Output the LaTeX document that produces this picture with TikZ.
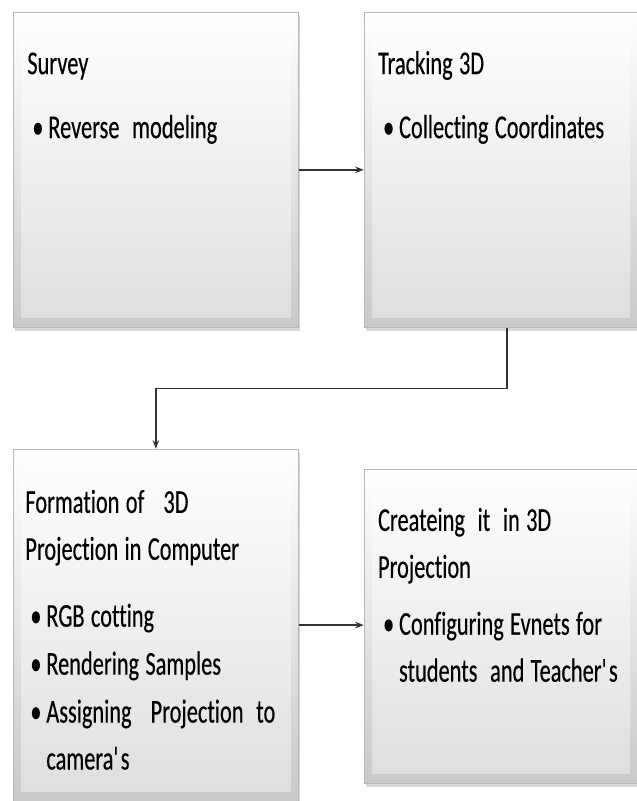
\documentclass[tikz,border=0pt]{standalone}
\usepackage{fontspec}
\setmainfont[FakeStretch=0.67, FakeBold=0.3, Ligatures=NoCommon]{Carlito}
\usepackage{tikz}
\usetikzlibrary{calc,positioning,arrows.meta,shadows}
\tikzset{
    % bevelled stage box (outer frame + inner face)
    stagebox/.style = {draw=gray!55, thin, inner sep=0, top color=white, bottom color=gray!42,
        drop shadow={shadow xshift=0.03cm, shadow yshift=-0.07cm, fill=gray!70, opacity=0.45},
        path picture={\shade[top color=white, bottom color=gray!26]
            ([shift={(0.16cm,0.2cm)}]path picture bounding box.south west) rectangle
            ([shift={(-0.16cm,-0.14cm)}]path picture bounding box.north east);}},
    % stage text (title and bullets)
    stagetext/.style = {anchor=north west, inner sep=0, align=left, text width=#1,
        font=\fontsize{19}{26.7}\selectfont,
        execute at begin node={\spaceskip=0.19em plus 0.05em\relax}},
    % connection between stages
    fconc/.style = {draw=black!80, line width=0.8pt, -{Stealth[length=1.7mm, width=1.3mm]}}
}
% bullet line, wrapped lines hang under the text
\newcommand{\stitem}[2][0.06cm]{\par\vspace{#1}\noindent\hspace*{0.1cm}\makebox[0.32cm][l]{\textbullet}\parbox[t]{5cm}{\raggedright #2}\par}

\begin{document}
\begin{tikzpicture}
\useasboundingbox (0,0) rectangle (12.74,-16.02);

% stages
\node [stagebox, minimum width=5.7cm, minimum height=6.3cm, anchor=north west] (A) at (0.26,-0.24) {};
\node [stagebox, minimum width=5.48cm, minimum height=6.3cm, anchor=north west] (B) at ($(A.north east)+(1.3,0)$) {};
\node [stagebox, minimum width=5.7cm, minimum height=7.04cm, anchor=north west] (C) at ($(A.south west)+(0,-2.42)$) {};
\node [stagebox, minimum width=5.48cm, minimum height=6.28cm, anchor=north west] (D) at ($(C.north east)+(1.3,-0.4)$) {};

% texts
\node [stagetext=5.3cm] (Atxt) at ($(A.north west)+(0.28,-0.58)$) {\strut Survey\stitem[0.34cm]{Reverse\ \ modeling}};
\node [stagetext=5.1cm] (Btxt) at ($(B.north west)+(0.28,-0.58)$) {\strut Tracking 3D\stitem[0.34cm]{Collecting Coordinates}};
\node [stagetext=5.4cm] (Ctxt) at ($(C.north west)+(0.24,-0.62)$) {\strut Formation of\ \ \ 3D\\Projection in Computer\stitem[0.4cm]{RGB cotting}\stitem[0.02cm]{Rendering Samples}\stitem[0.02cm]{Assigning\ \ \ Projection\ \ to\\camera\textquotesingle s}};
\node [stagetext=5.1cm] (Dtxt) at ($(D.north west)+(0.28,-0.58)$) {\strut Createing\ \ it\ \ in 3D\\Projection\stitem[0.2cm]{Configuring Evnets for\\students\ \ and Teacher\textquotesingle s}};

% connections
\draw [fconc] (A.east) -- (B.west);
\draw [fconc] ([xshift=0.12cm]B.south) -- ++(0,-1.22) -| (C.north);
\draw [fconc] (C.east) -- (C.east -| D.west);

\end{tikzpicture}
\end{document}
